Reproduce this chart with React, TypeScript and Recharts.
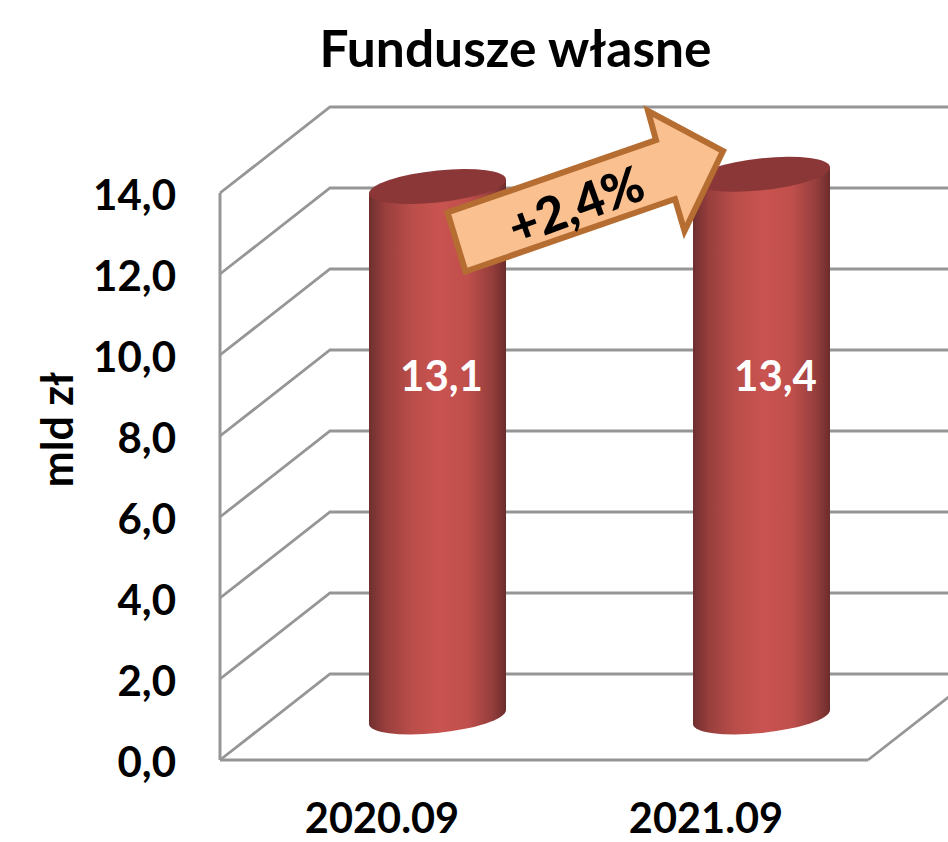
import { Bar, BarChart, CartesianGrid, LabelList, XAxis, YAxis } from 'recharts';

const categories = ['2020.09', '2021.09'];
const values = [13.1, 13.4];
const yTicks = [0, 2, 4, 6, 8, 10, 12, 14];

const chartData = categories.map((name, i) => ({ name, value: values[i] }));

const FONT = 'Lato, Carlito, sans-serif';
const GRID = '#969696';
// the fake 3D box: how far the back wall sits from the front plane
const DEPTH_X = 110;
const DEPTH_Y = 86;

const fmt = (v: number) => v.toFixed(1).replace('.', ',');

// one grid level: diagonal on the side wall, then the line along the back wall
function WallLine(props: any) {
  const { x1, x2, y1, index } = props;
  const backY = y1 - DEPTH_Y;
  return (
    <g key={`wall-${index}`}>
      <path
        d={`M${x1},${y1} L${x1 + DEPTH_X},${backY} L${x2 + DEPTH_X},${backY}`}
        fill="none"
        stroke={GRID}
        strokeWidth={2.8}
      />
      {y1 > 700 && (
        <path d={`M${x2},${y1} L${x2 + DEPTH_X},${backY}`} fill="none" stroke={GRID} strokeWidth={2.8} />
      )}
    </g>
  );
}

// cylinder sits halfway into the box, so shift it by half the depth
function Cylinder(props: any) {
  const { x, y, width, height } = props;
  const r = width / 2;
  const ry = 16;
  const cx = x + r + DEPTH_X / 2;
  const top = y - DEPTH_Y / 2;
  return (
    <g transform={`translate(${cx},${top}) skewY(-5.8)`}>
      <path
        d={`M${-r},0 L${-r},${height} A${r},${ry} 0 0 0 ${r},${height} L${r},0 Z`}
        fill="url(#cylBody)"
      />
      <ellipse cx={0} cy={0} rx={r} ry={ry} fill="#8b3737" />
    </g>
  );
}

function ValueLabel(props: any) {
  const { x, width, index, value } = props;
  const shift = [59, 69][index];
  return (
    <text
      x={x + width / 2 + shift}
      y={391}
      textAnchor="middle"
      fontFamily={FONT}
      fontWeight={700}
      fontSize={42}
      fill="#ffffff"
    >
      {fmt(value)}
    </text>
  );
}

export default function App() {
  return (
    <div style={{ position: 'absolute', left: 0, top: 0, width: 948, height: 842, background: '#fff' }}>
      <BarChart
        width={948}
        height={842}
        data={chartData}
        margin={{ top: 193, right: 80, bottom: 0, left: 0 }}
      >
        <defs>
          <linearGradient id="cylBody" x1="0" y1="0" x2="1" y2="0">
            <stop offset="0%" stopColor="#6e2f2e" />
            <stop offset="12%" stopColor="#993f3d" />
            <stop offset="32%" stopColor="#bb4e4a" />
            <stop offset="52%" stopColor="#c95350" />
            <stop offset="72%" stopColor="#c04f4c" />
            <stop offset="90%" stopColor="#943e3c" />
            <stop offset="100%" stopColor="#6c2c2c" />
          </linearGradient>
        </defs>
        <CartesianGrid vertical={false} horizontal={WallLine as any} />
        <XAxis
          dataKey="name"
          height={82}
          interval={0}
          axisLine={{ stroke: GRID, strokeWidth: 3 }}
          tickLine={false}
          tickMargin={38}
          tick={{ fontFamily: FONT, fontWeight: 700, fontSize: 41.5, fill: '#000' }}
        />
        <YAxis
          width={220}
          domain={[0, 14]}
          ticks={yTicks}
          tickFormatter={fmt}
          axisLine={{ stroke: GRID, strokeWidth: 3 }}
          tickLine={false}
          tickMargin={38}
          tick={{ fontFamily: FONT, fontWeight: 700, fontSize: 42, fill: '#000', dy: 2 }}
        />
        <Bar dataKey="value" barSize={137} shape={Cylinder} isAnimationActive={false}>
          <LabelList dataKey="value" content={ValueLabel} />
        </Bar>
        <text x={515.5} y={67} textAnchor="middle" fontFamily={FONT} fontWeight={700} fontSize={51.5} fill="#000">
          Fundusze własne
        </text>
        <text
          transform="translate(73,429.5) rotate(-90)"
          textAnchor="middle"
          fontFamily={FONT}
          fontWeight={700}
          fontSize={43}
          fill="#000"
        >
          mld zł
        </text>
      </BarChart>
      {/* arrow has to sit over the bars, recharts layers them on top of plain children */}
      <svg width={948} height={842} style={{ position: 'absolute', left: 0, top: 0 }}>
        <polygon
          points="447.5,212.5 656,140 648,111 723,151 684.5,231 675,199 465.5,271.5"
          fill="#fac090"
          stroke="#b66d31"
          strokeWidth={6}
          strokeLinejoin="miter"
        />
        <text
          transform="translate(582,222) rotate(-20)"
          textAnchor="middle"
          fontFamily={FONT}
          fontWeight={900}
          fontSize={50}
          fill="#000"
        >
          +2,4%
        </text>
      </svg>
    </div>
  );
}
